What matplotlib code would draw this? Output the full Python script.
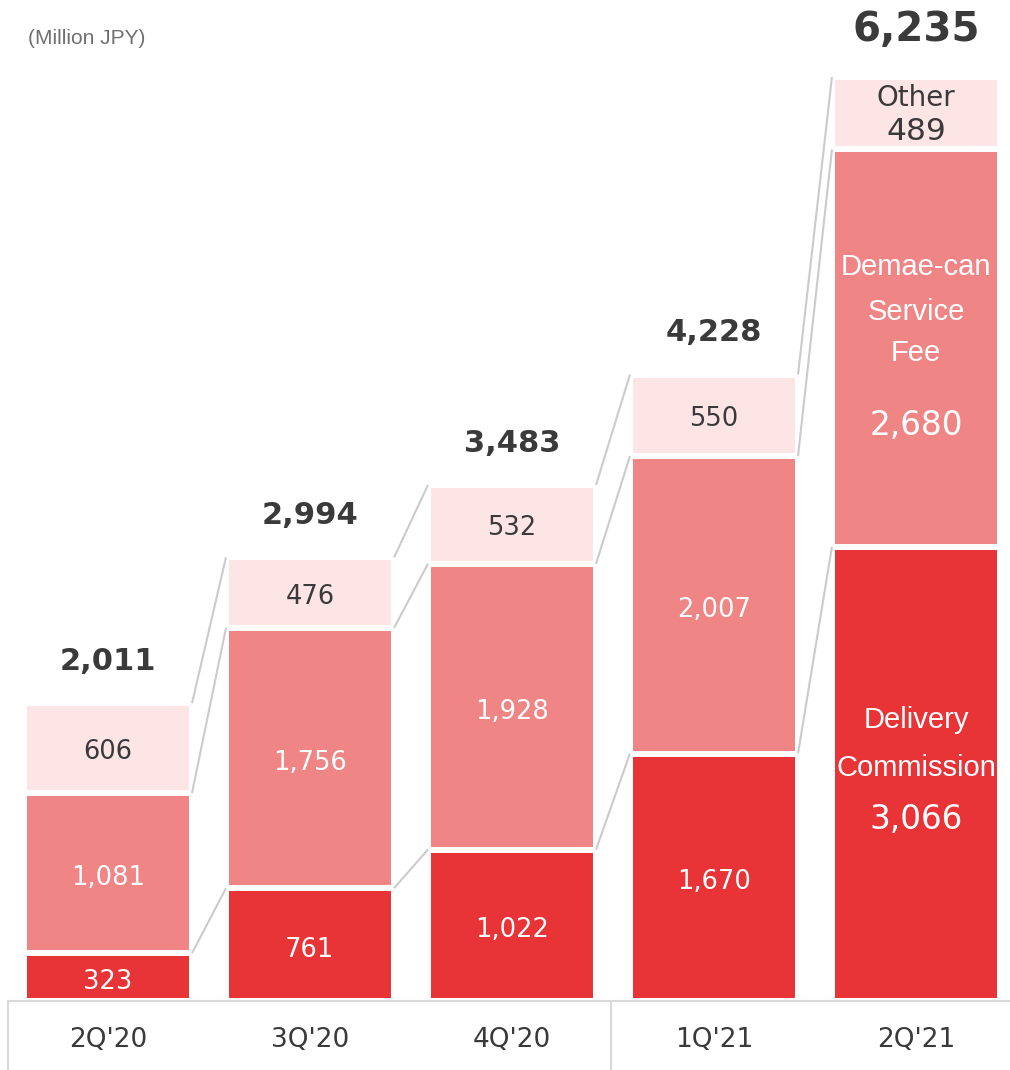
import matplotlib.pyplot as plt
from matplotlib.lines import Line2D
import numpy as np

quarters = ["2Q'20", "3Q'20", "4Q'20", "1Q'21", "2Q'21"]
delivery = [323, 761, 1022, 1670, 3066]
service_fee = [1081, 1756, 1928, 2007, 2680]
other = [606, 476, 532, 550, 489]
totals = [2011, 2994, 3483, 4228, 6235]

c_delivery = '#e83437'
c_service = '#f08586'
c_other = '#fde5e6'
dark = '#3a3a3a'
grid_gray = '#d9d9d9'

W, H = 1010, 1070
fig = plt.figure(figsize=(W / 100, H / 100), dpi=100)

# axes placed in pixel terms: baseline at y=1001, bar pitch 202 px
px_per_unit = 0.1482
pitch = 202
ax_left, ax_right = 7, 1010
ax_bottom = H - 1001
ax = fig.add_axes([ax_left / W, ax_bottom / H, (ax_right - ax_left) / W, (H - ax_bottom) / H])
ax.set_xlim(-0.5, -0.5 + (ax_right - ax_left) / pitch)
ax.set_ylim(0, (H - ax_bottom) / px_per_unit)
ax.axis('off')

x = np.arange(len(quarters))
width = 0.832
edge_px = 6
layers = [delivery, service_fee, other]
colors = [c_delivery, c_service, c_other]
bottom = np.zeros(len(quarters))
tops = []
for vals, col in zip(layers, colors):
    ax.bar(x, vals, width, bottom=bottom, color=col, edgecolor='white',
           linewidth=edge_px * 0.72)
    bottom = bottom + np.array(vals)
    tops.append(bottom.copy())

# connector lines between the tops of matching segments
vis_half = width / 2 - edge_px / 2 / pitch
pad = 3 / pitch
for top in tops:
    for i in range(len(quarters) - 1):
        ax.plot([i + vis_half + pad, i + 1 - vis_half - pad], [top[i], top[i + 1]],
                color='#cbcbcb', lw=1.5, solid_capstyle='butt')


def label(i, y, dy_px, s, color, size, family='DejaVu Sans'):
    ax.annotate(s, (i, y), xytext=(0, -dy_px * 0.72), textcoords='offset points',
                ha='center', va='center', color=color, fontsize=size, family=family)


# segment value labels for the first four quarters
for i in range(len(quarters) - 1):
    label(i, delivery[i] / 2, 5, f'{delivery[i]:,}', 'white', 18.5)
    label(i, delivery[i] + service_fee[i] / 2, 5, f'{service_fee[i]:,}', 'white', 18.5)
    label(i, delivery[i] + service_fee[i] + other[i] / 2, 4, f'{other[i]:,}', dark, 18.5)

# last quarter carries the series names
j = len(quarters) - 1
d_mid = delivery[j] / 2
s_mid = delivery[j] + service_fee[j] / 2
o_mid = delivery[j] + service_fee[j] + other[j] / 2
sans = 'Liberation Sans'

label(j, d_mid, -54, 'Delivery', 'white', 21, sans)
label(j, d_mid, -6, 'Commission', 'white', 21, sans)
label(j, d_mid, 46, f'{delivery[j]:,}', 'white', 23.5)
label(j, s_mid, -81, 'Demae-can', 'white', 21, sans)
label(j, s_mid, -36, 'Service', 'white', 21, sans)
label(j, s_mid, 5, 'Fee', 'white', 21, sans)
label(j, s_mid, 77, f'{service_fee[j]:,}', 'white', 23.5)
label(j, o_mid, -15, 'Other', dark, 20)
label(j, o_mid, 18, f'{other[j]:,}', dark, 22.5)

# totals above each bar
for i, t in enumerate(totals):
    big = i == len(quarters) - 1
    ax.annotate(f'{t:,}', (i, tops[-1][i]), xytext=(0, 34 if big else 30),
                textcoords='offset points', ha='center', va='center',
                fontsize=29 if big else 22, fontweight='bold', color=dark)

# category strip below the bars
fig.add_artist(Line2D([8 / W, 1], [(H - 1001) / H] * 2, color=grid_gray, lw=1.5))
for xp in (8, 611):
    fig.add_artist(Line2D([xp / W] * 2, [0, (H - 1001) / H], color=grid_gray, lw=1.5))
for i, q in enumerate(quarters):
    fig.text((108 + pitch * i) / W, (H - 1040) / H, q, ha='center', va='center',
             fontsize=19, color=dark)

fig.text(28 / W, (H - 38) / H, '(Million JPY)', ha='left', va='center',
         fontsize=15, color='#707070', family=sans)

plt.savefig('out.png', dpi=100)
